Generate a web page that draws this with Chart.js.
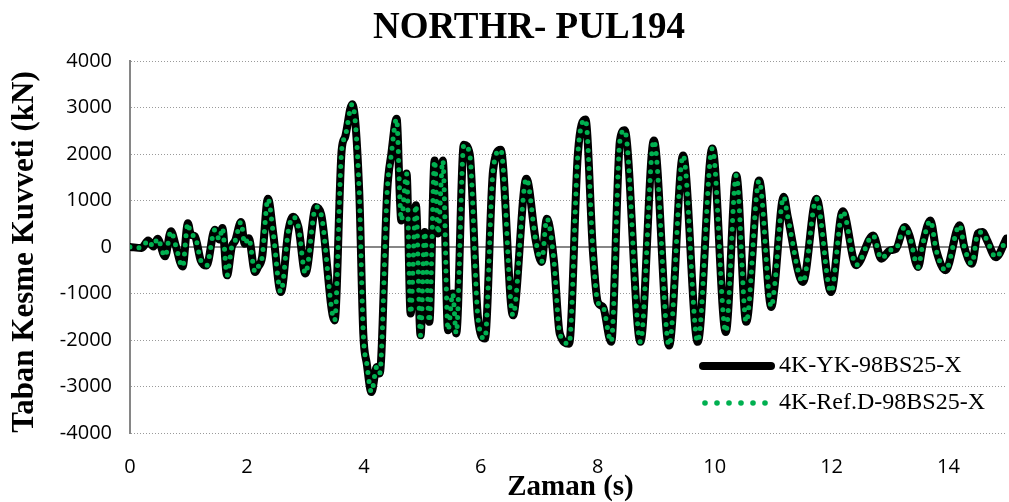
<!DOCTYPE html>
<html>
<head>
<meta charset="utf-8">
<title>NORTHR- PUL194</title>
<script src="https://cdn.jsdelivr.net/npm/chart.js@4.4.1/dist/chart.umd.min.js"></script>
<style>
  html, body { margin: 0; padding: 0; background: #fff; }
  #wrap { width: 1009px; height: 502px; position: relative; }
</style>
</head>
<body>
<div id="wrap"><canvas id="shear-chart"></canvas></div>
<script>
// Base shear time history (kN) vs time (s)
const times = [
  0.00, 0.20, 0.31, 0.40, 0.47, 0.60, 0.70, 0.78, 0.90, 0.99,
  1.04, 1.11, 1.21, 1.31, 1.45, 1.53, 1.58, 1.66, 1.74, 1.80,
  1.90, 1.96, 2.03, 2.14, 2.19, 2.26, 2.36, 2.45, 2.58, 2.71,
  2.79, 2.88, 3.00, 3.18, 3.27, 3.50, 3.62, 3.68, 3.80, 3.92,
  3.99, 4.05, 4.13, 4.22, 4.27, 4.40, 4.47, 4.56, 4.62, 4.64,
  4.73, 4.80, 4.89, 4.97, 5.04, 5.12, 5.21, 5.27, 5.35, 5.44,
  5.52, 5.58, 5.71, 5.81, 5.95, 6.07, 6.21, 6.34, 6.55, 6.78,
  6.94, 7.04, 7.13, 7.25, 7.35, 7.51, 7.66, 7.79, 7.92, 8.00,
  8.09, 8.23, 8.38, 8.46, 8.73, 8.96, 9.22, 9.46, 9.71, 9.96,
  10.19, 10.37, 10.54, 10.76, 10.97, 11.02, 11.18, 11.25, 11.51, 11.74,
  11.99, 12.19, 12.42, 12.71, 12.85, 13.00, 13.10, 13.25, 13.33, 13.48,
  13.56, 13.69, 13.79, 13.95, 14.19, 14.27, 14.40, 14.50, 14.58, 14.66,
  14.81, 14.99
];
const shearYK = [
  0, -20, 140, 10, 180, -200, 340, 40, -420, 510,
  270, 230, -290, -400, 370, 160, 410, -610, 0, 140,
  540, 70, 190, -540, -430, -220, 1040, 290, -970, 360,
  650, 430, -570, 860, 700, -1580, 2080, 2370, 3070, 1220,
  -1860, -2510, -3120, -2580, -2720, 1220, 2000, 2760, 930, 570,
  1580, -1430, 900, -1900, 320, -1610, 1860, 290, 1860, -1790,
  -1000, -1860, 2200, 2000, -1500, -1970, 1650, 2090, -1470, 1470,
  140, -320, 610, -290, -1860, -2080, 2000, 2740, -140, -1180,
  -1290, -2040, 2290, 2510, -2040, 2290, -2120, 1970, -2040, 2120,
  -1830, 1540, -1610, 1430, -1290, -900, 1080, 650, -750, 1040,
  -970, 770, -390, 250, -250, -70, -40, 430, 250, -430,
  70, 570, -70, -500, 470, 0, -360, 290, 320, 140,
  -220, 180
];
// the reference model follows the same record
const shearRef = shearYK;

const seriesNames = ['4K-YK-98BS25-X', '4K-Ref.D-98BS25-X'];
const xTicks = [0, 2, 4, 6, 8, 10, 12, 14];
const yTicks = [-4000, -3000, -2000, -1000, 0, 1000, 2000, 3000, 4000];

const toPoints = vals => vals.map((v, i) => ({ x: times[i], y: v }));

const GREEN = '#00b050';
const serif = '"Liberation Serif", "Times New Roman", serif';
const tickFont = { family: '"Open Sans", sans-serif', size: 20 };

// title, axis titles, zero line and legend
const decorations = {
  id: 'decorations',
  beforeDatasetsDraw(chart) {
    const { ctx, chartArea, scales } = chart;
    const y0 = scales.y.getPixelForValue(0);
    ctx.save();
    ctx.strokeStyle = '#868686';
    ctx.lineWidth = 2;
    ctx.beginPath();
    ctx.moveTo(chartArea.left, y0);
    ctx.lineTo(chartArea.right, y0);
    ctx.stroke();
    ctx.restore();
  },
  afterDraw(chart) {
    const { ctx, chartArea } = chart;
    ctx.save();
    ctx.fillStyle = '#000';

    ctx.font = 'bold 37px ' + serif;
    ctx.textAlign = 'center';
    ctx.textBaseline = 'alphabetic';
    ctx.fillText('NORTHR- PUL194', 529, 38);

    ctx.font = 'bold 29px ' + serif;
    ctx.fillText('Zaman (s)', (chartArea.left + chartArea.right) / 2 + 2, 495);

    ctx.save();
    ctx.translate(33, (chartArea.top + chartArea.bottom) / 2 + 5);
    ctx.rotate(-Math.PI / 2);
    ctx.font = 'bold 31px ' + serif;
    ctx.fillText('Taban Kesme Kuvveti (kN)', 0, 0);
    ctx.restore();

    // legend
    const lx = 703, rows = [366, 403];
    ctx.lineCap = 'round';
    ctx.strokeStyle = '#000';
    ctx.lineWidth = 8;
    ctx.beginPath();
    ctx.moveTo(lx, rows[0]);
    ctx.lineTo(lx + 68, rows[0]);
    ctx.stroke();
    ctx.fillStyle = GREEN;
    for (let i = 0; i < 6; i++) {
      ctx.beginPath();
      ctx.arc(lx + 2 + i * 12, rows[1], 2.8, 0, Math.PI * 2);
      ctx.fill();
    }
    ctx.fillStyle = '#000';
    ctx.font = '24px ' + serif;
    ctx.textAlign = 'left';
    ctx.textBaseline = 'middle';
    ctx.fillText(seriesNames[0], 779, rows[0]);
    ctx.fillText(seriesNames[1], 779, rows[1]);
    ctx.restore();
  }
};

new Chart(document.getElementById('shear-chart'), {
  type: 'line',
  data: {
    datasets: [
      {
        label: seriesNames[0],
        data: toPoints(shearYK),
        borderColor: '#000',
        borderWidth: 8,
        borderCapStyle: 'round',
        borderJoinStyle: 'round',
        pointRadius: 0,
        cubicInterpolationMode: 'monotone',
        order: 1
      },
      {
        label: seriesNames[1],
        data: toPoints(shearRef),
        borderColor: GREEN,
        borderWidth: 5,
        borderDash: [0, 9],
        borderCapStyle: 'round',
        pointRadius: 0,
        cubicInterpolationMode: 'monotone',
        order: 0
      }
    ]
  },
  options: {
    responsive: true,
    maintainAspectRatio: false,
    animation: false,
    layout: { padding: { top: 61, right: 2, left: 0, bottom: 0 } },
    plugins: {
      legend: { display: false },
      title: { display: false },
      tooltip: { enabled: false }
    },
    scales: {
      x: {
        type: 'linear',
        min: 0,
        max: 15,
        afterBuildTicks: s => { s.ticks = xTicks.map(v => ({ value: v })); },
        afterFit: s => { s.height = 69; },
        grid: { display: false, drawTicks: false },
        border: { display: false },
        ticks: {
          padding: 22,
          color: '#000',
          font: tickFont,
          callback: v => String(v)
        }
      },
      y: {
        min: -4000,
        max: 4000,
        afterBuildTicks: s => { s.ticks = yTicks.map(v => ({ value: v })); },
        afterFit: s => { s.width = 130; },
        grid: { color: '#9a9a9a', lineWidth: 1, drawTicks: false },
        border: { display: true, color: '#868686', width: 2, dash: [1, 2] },
        ticks: {
          padding: 18,
          color: '#000',
          font: tickFont,
          callback: v => String(v)
        }
      }
    }
  },
  plugins: [decorations]
});
</script>
</body>
</html>
